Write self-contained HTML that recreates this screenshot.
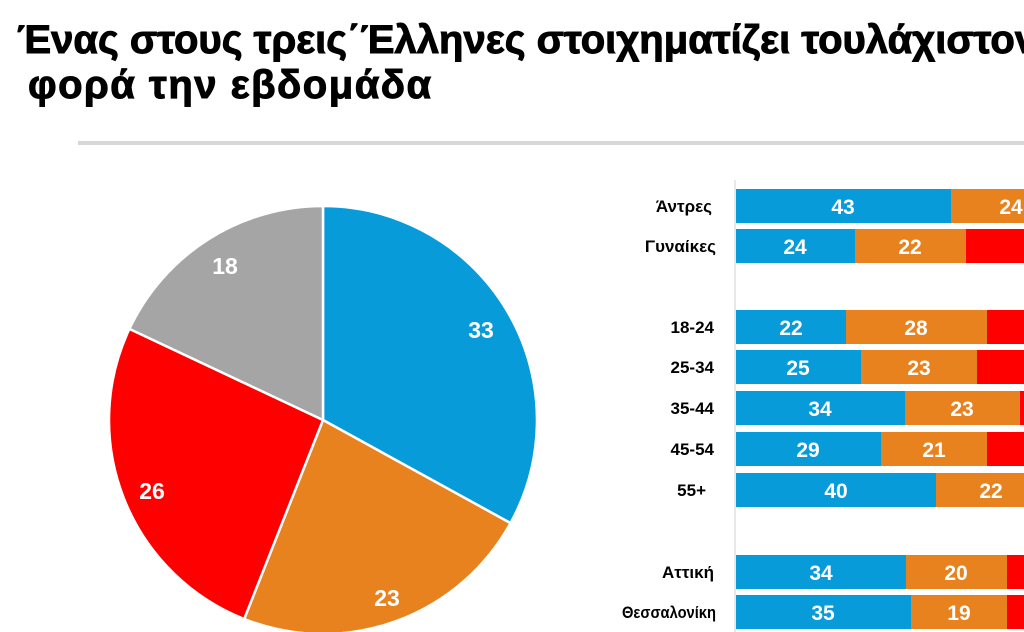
<!DOCTYPE html>
<html><head><meta charset="utf-8"><style>
html,body{margin:0;padding:0;background:#fff;overflow:hidden}
svg{display:block}
</style></head><body>
<svg width="1024" height="632" viewBox="0 0 1024 632" xmlns="http://www.w3.org/2000/svg" font-family="Liberation Sans, DejaVu Sans, sans-serif">
<g font-weight="bold" fill="#000" stroke="#000" stroke-width="1">
<text x="17" y="53" font-size="40">Ένας στους τρεις΄Έλληνες στοιχηματίζει τουλάχιστον μία</text>
<text x="28" y="98" font-size="40" letter-spacing="1.5">φορά την εβδομάδα</text>
</g>
<rect x="78" y="141" width="946" height="4" fill="#d6d6d6"/>
<g stroke="#fff" stroke-width="2.5" stroke-linejoin="round">
<path d="M323,420 L323,206 A214,214 0 0 1 510.5,523.1 Z" fill="#079bd9"/>
<path d="M323,420 L510.5,523.1 A214,214 0 0 1 244.2,619 Z" fill="#e8821e"/>
<path d="M323,420 L244.2,619 A214,214 0 0 1 129.4,328.9 Z" fill="#fe0000"/>
<path d="M323,420 L129.4,328.9 A214,214 0 0 1 323,206 Z" fill="#a5a5a5"/>
</g>
<g font-size="23" font-weight="bold" fill="#fff" text-anchor="middle">
<text x="481" y="338">33</text>
<text x="387" y="606">23</text>
<text x="152" y="499">26</text>
<text x="225" y="274">18</text>
</g>
<line x1="735" y1="180" x2="735" y2="632" stroke="#e0e0e0" stroke-width="1.5"/>
<g font-size="17" font-weight="bold" fill="#000" text-anchor="end">
<text x="712" y="212">Άντρες</text>
<text x="716" y="252">Γυναίκες</text>
<text x="714" y="333">18-24</text>
<text x="714" y="373">25-34</text>
<text x="714" y="414">35-44</text>
<text x="714" y="455">45-54</text>
<text x="706" y="496">55+</text>
<text x="714" y="578">Αττική</text>
<text x="716" y="618" textLength="94" lengthAdjust="spacingAndGlyphs">Θεσσαλονίκη</text>
</g>
<g>
<rect x="736" y="189" width="215" height="34" fill="#079bd9"/><rect x="951" y="189" width="119" height="34" fill="#e8821e"/>
<rect x="736" y="229" width="119" height="34" fill="#079bd9"/><rect x="855" y="229" width="111" height="34" fill="#e8821e"/><rect x="966" y="229" width="100" height="34" fill="#fe0000"/>
<rect x="736" y="310" width="110" height="34" fill="#079bd9"/><rect x="846" y="310" width="141" height="34" fill="#e8821e"/><rect x="987" y="310" width="100" height="34" fill="#fe0000"/>
<rect x="736" y="350" width="125" height="34" fill="#079bd9"/><rect x="861" y="350" width="116" height="34" fill="#e8821e"/><rect x="977" y="350" width="100" height="34" fill="#fe0000"/>
<rect x="736" y="391" width="169" height="34" fill="#079bd9"/><rect x="905" y="391" width="115" height="34" fill="#e8821e"/><rect x="1020" y="391" width="100" height="34" fill="#fe0000"/>
<rect x="736" y="432" width="145" height="34" fill="#079bd9"/><rect x="881" y="432" width="106" height="34" fill="#e8821e"/><rect x="987" y="432" width="100" height="34" fill="#fe0000"/>
<rect x="736" y="473" width="200" height="34" fill="#079bd9"/><rect x="936" y="473" width="110" height="34" fill="#e8821e"/>
<rect x="736" y="555" width="170" height="34" fill="#079bd9"/><rect x="906" y="555" width="101" height="34" fill="#e8821e"/><rect x="1007" y="555" width="100" height="34" fill="#fe0000"/>
<rect x="736" y="595" width="175" height="34" fill="#079bd9"/><rect x="911" y="595" width="96" height="34" fill="#e8821e"/><rect x="1007" y="595" width="100" height="34" fill="#fe0000"/>
</g>
<g font-size="21" font-weight="bold" fill="#fff" text-anchor="middle">
<text x="843" y="214">43</text><text x="1011" y="214">24</text>
<text x="795" y="254">24</text><text x="910" y="254">22</text>
<text x="791" y="335">22</text><text x="916" y="335">28</text>
<text x="798" y="375">25</text><text x="919" y="375">23</text>
<text x="820" y="416">34</text><text x="962" y="416">23</text>
<text x="808" y="457">29</text><text x="934" y="457">21</text>
<text x="836" y="498">40</text><text x="991" y="498">22</text>
<text x="821" y="580">34</text><text x="956" y="580">20</text>
<text x="823" y="620">35</text><text x="959" y="620">19</text>
</g>
</svg>
</body></html>
